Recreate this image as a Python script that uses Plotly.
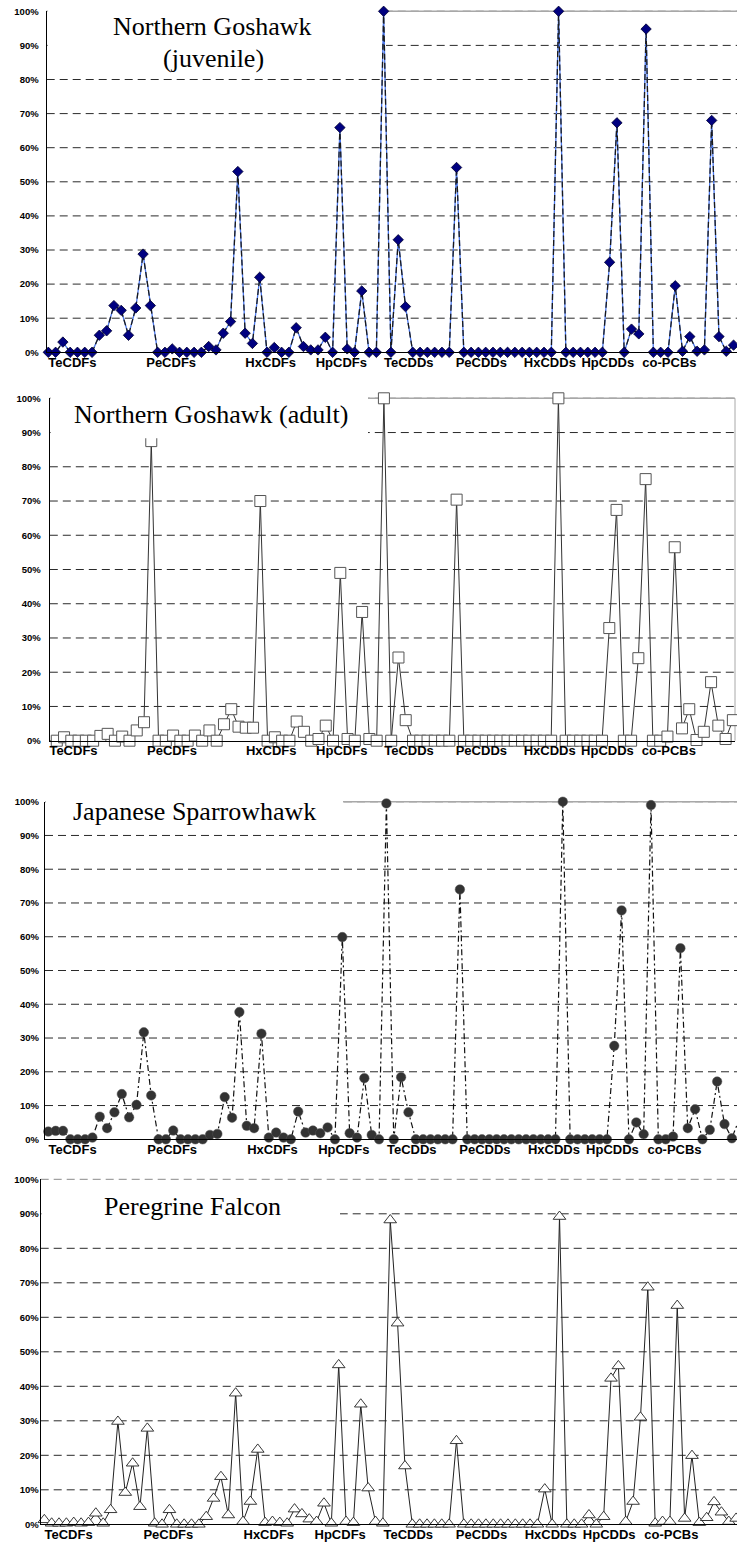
import plotly.graph_objects as go

W, H = 737, 1542

# ---------------- data (share of TEQ, %) ----------------
congener = list(range(1, 96))
group_labels = ["TeCDFs", "PeCDFs", "HxCDFs", "HpCDFs", "TeCDDs",
                "PeCDDs", "HxCDDs", "HpCDDs", "co-PCBs"]
group_label_pos = [4.3, 17.85, 31.5, 41.2, 50.45, 60.4, 69.8, 77.75, 86.2]
y_ticks = [0, 10, 20, 30, 40, 50, 60, 70, 80, 90, 100]
y_tick_text = [f"{v}%" for v in y_ticks]

goshawk_juvenile = [
    0, 0, 3, 0, 0, 0, 0, 5, 6.3, 13.7, 12.3, 5, 13, 28.8, 13.7, 0, 0, 1, 0, 0,
    0, 0, 1.7, 0.7, 5.6, 9, 53, 5.6, 2.6, 22, 0, 1.4, 0, 0, 7.2, 1.7, 0.7, 0.7, 4.4, 0,
    65.9, 1, 0, 18, 0, 0, 100, 0, 33, 13.4, 0, 0, 0, 0, 0, 0, 54.2, 0, 0, 0,
    0, 0, 0, 0, 0, 0, 0, 0, 0, 0, 100, 0, 0, 0, 0, 0, 0, 26.4, 67.3, 0,
    6.8, 5.4, 94.8, 0, 0, 0, 19.5, 0.3, 4.6, 0.3, 0.7, 68, 4.6, 0.3, 2.1]

goshawk_adult = [
    0, 0, 1, 0, 0, 0, 0, 1.4, 2, 0, 1.2, 0, 3, 5.4, 87.5, 0, 0, 1.5, 0, 0,
    1.5, 0, 3, 0, 4.8, 9.2, 4.1, 3.8, 3.8, 70, 0, 1, 0, 0, 5.6, 2.6, 0, 0.5, 4.4, 0,
    49, 0.5, 0, 37.6, 0.5, 0, 100, 0, 24.3, 6, 0, 0, 0, 0, 0, 0, 70.4, 0, 0, 0,
    0, 0, 0, 0, 0, 0, 0, 0, 0, 0, 100, 0, 0, 0, 0, 0, 0, 32.9, 67.4, 0,
    0, 24.1, 76.4, 0, 0, 1.2, 56.5, 3.6, 9.2, 0.2, 2.6, 17.1, 4.4, 0.5, 6]

sparrowhawk = [
    2.3, 2.5, 2.5, 0, 0, 0, 0.5, 6.7, 3.3, 8, 13.4, 6.5, 10.2, 31.7, 13, 0, 0, 2.6, 0, 0,
    0, 0, 1.3, 1.6, 12.5, 6.4, 37.7, 4, 3.3, 31.3, 0.5, 2, 0.5, 0, 8.2, 2, 2.6, 1.8, 3.5, 0,
    59.9, 1.8, 0.5, 18.1, 1.3, 0, 99.5, 0, 18.4, 8, 0, 0, 0, 0, 0, 0, 74, 0, 0, 0,
    0, 0, 0, 0, 0, 0, 0, 0, 0, 0, 100, 0, 0, 0, 0, 0, 0, 27.7, 67.8, 0,
    5, 1.5, 99, 0, 0, 0.8, 56.6, 3.3, 8.9, 0, 2.8, 17.1, 4.5, 0.3, 6]

peregrine = [
    1.3, 0.3, 0.3, 0.3, 0.5, 0.3, 0.5, 3.2, 0.3, 4.2, 29.8, 9.2, 17.7, 5.1, 27.8, 0.3, 0, 4.2, 0, 0,
    0, 0, 2.2, 7.5, 13.8, 2.7, 38, 0.8, 6.6, 21.7, 0.5, 0.8, 0.5, 0.3, 4.4, 3, 1.5, 0.8, 6.1, 0.3,
    46.2, 0.8, 0.5, 34.8, 10.5, 0.8, 0.3, 88.2, 58.3, 16.9, 0, 0, 0, 0, 0, 0, 24.2, 0, 0, 0,
    0, 0, 0, 0, 0, 0, 0, 0, 10.2, 0, 89.2, 0, 0, 0, 2.7, 0, 2.2, 42.3, 45.9, 0.8,
    6.6, 31, 68.7, 0.3, 0.8, 0.8, 63.4, 1.7, 19.9, 0.5, 1.9, 6.5, 3.5, 0.8, 1.7]

# ---------------- panel geometry (pixels) ----------------
panels = [
    dict(axis=46.7, first=48.3, step=7.29, right=737.0, y0=352.3, y100=11.3, standoff=5),
    dict(axis=49.8, first=49.5, step=7.27, right=735.0, y0=740.7, y100=398.3, standoff=6),
    dict(axis=45.0, first=48.3, step=7.35, right=737.0, y0=1139.3, y100=801.7, standoff=3),
    dict(axis=40.7, first=44.3, step=7.36, right=737.0, y0=1524.3, y100=1179.3, standoff=-1),
]


def fx(xpx):
    return xpx / W


def fy(ypx):
    return 1 - ypx / H


fig = go.Figure()


def ax_names(k):
    return ("x" if k == 0 else f"x{k+1}"), ("y" if k == 0 else f"y{k+1}")


for k, p in enumerate(panels):
    xa, ya = ax_names(k)
    lo = 1 + (p["axis"] - p["first"]) / p["step"]
    hi = 1 + (p["right"] - p["first"]) / p["step"]
    xkey = "xaxis" if k == 0 else f"xaxis{k+1}"
    ykey = "yaxis" if k == 0 else f"yaxis{k+1}"
    fig.update_layout(**{
        xkey: dict(
            domain=[fx(p["axis"]), min(1.0, fx(p["right"]))], range=[lo, hi], anchor=ya,
            automargin=False, fixedrange=True, ticklabeloverflow="allow",
            showline=True, linecolor="black", linewidth=1.3, showgrid=False,
            zeroline=False, tickvals=group_label_pos, ticktext=group_labels,
            ticks="", tickangle=0, ticklabelstandoff=-2,
            tickfont=dict(family="Liberation Sans", size=13, color="black", weight="bold"),
        ),
        ykey: dict(
            domain=[fy(p["y0"]), fy(p["y100"])], range=[0, 100], anchor=xa,
            automargin=False, fixedrange=True, ticklabeloverflow="allow",
            showline=True, linecolor="black", linewidth=1.3, showgrid=False,
            zeroline=False, tickvals=y_ticks, ticktext=y_tick_text, ticks="",
            ticklabelstandoff=int(p["standoff"]),
            tickfont=dict(family="Liberation Sans", size=9.5, color="black", weight="bold"),
        ),
    })

# Panel 1: Northern Goshawk (juvenile) -- blue line under black dashes, navy diamonds
fig.add_trace(go.Scatter(x=congener, y=goshawk_juvenile, mode="lines", xaxis="x", yaxis="y",
                         line=dict(color="#4a78f0", width=1.3), cliponaxis=False,
                         hoverinfo="skip", showlegend=False))
fig.add_trace(go.Scatter(x=congener, y=goshawk_juvenile, mode="lines+markers", xaxis="x", yaxis="y",
                         line=dict(color="#1a1a1a", width=1.3, dash="6px,3px"),
                         marker=dict(symbol="diamond", size=8, color="#000080",
                                     line=dict(color="#000030", width=0.8)),
                         cliponaxis=False, showlegend=False, name="Northern Goshawk (juvenile)"))

# Panel 2: Northern Goshawk (adult) -- white squares
fig.add_trace(go.Scatter(x=congener, y=goshawk_adult, mode="lines+markers", xaxis="x2", yaxis="y2",
                         line=dict(color="#333333", width=1),
                         marker=dict(symbol="square", size=11, color="white",
                                     line=dict(color="#555555", width=1)),
                         cliponaxis=False, showlegend=False, name="Northern Goshawk (adult)"))

# Panel 3: Japanese Sparrowhawk -- dash-dot line, dark circles
fig.add_trace(go.Scatter(x=congener, y=sparrowhawk, mode="lines+markers", xaxis="x3", yaxis="y3",
                         line=dict(color="#111111", width=1.2, dash="6px,3px,2px,3px"),
                         marker=dict(symbol="circle", size=9.5, color="#333333",
                                     line=dict(color="#555555", width=0.5)),
                         cliponaxis=False, showlegend=False, name="Japanese Sparrowhawk"))

# Panel 4: Peregrine Falcon -- white triangles
fig.add_trace(go.Scatter(x=congener, y=peregrine, mode="lines+markers", xaxis="x4", yaxis="y4",
                         line=dict(color="#222222", width=1),
                         marker=dict(symbol="triangle-up", size=11, color="white",
                                     line=dict(color="#222222", width=0.9)),
                         cliponaxis=False, showlegend=False, name="Peregrine Falcon"))

shapes = []
# dashed horizontal gridlines (drawn as shapes below the traces)
for k, p in enumerate(panels):
    for v in y_ticks[1:]:
        ypx = p["y0"] - (p["y0"] - p["y100"]) * v / 100
        col = "#8a8a8a" if (k == 3 and v == 100) else "#2a2a2a"
        shapes.append(dict(type="line", xref="paper", yref="paper",
                           x0=fx(p["axis"]), x1=min(1.0, fx(p["right"])), y0=fy(ypx), y1=fy(ypx),
                           line=dict(color=col, width=1, dash="8px,5px"), layer="below"))
# gray solid top border at 100 % (panels 1-3)
for k in range(3):
    p = panels[k]
    shapes.append(dict(type="line", xref="paper", yref="paper",
                       x0=fx(p["axis"]), x1=min(1.0, fx(p["right"])),
                       y0=fy(p["y100"]), y1=fy(p["y100"]),
                       line=dict(color="#a8a8a8", width=1.4), layer="below"))
# right border of panel 2
p = panels[1]
shapes.append(dict(type="line", xref="paper", yref="paper",
                   x0=fx(p["right"]), x1=fx(p["right"]), y0=fy(p["y0"]), y1=fy(p["y100"]),
                   line=dict(color="#a8a8a8", width=1), layer="below"))

# white title boxes (left, top, right, bottom in pixels)
boxes = [(47.6, 0, 386, 72, "below"),
         (50.6, 392, 368, 438.3, "above"),
         (45.8, 795, 343, 827, "below"),
         (41.5, 1180.6, 340, 1222, "below")]
for x0p, y0p, x1p, y1p, layer in boxes:
    shapes.append(dict(type="rect", xref="paper", yref="paper",
                       x0=fx(x0p), x1=fx(x1p), y0=fy(y1p), y1=min(1.0, fy(y0p)),
                       fillcolor="white", line=dict(width=0), layer=layer))

titles = [("Northern Goshawk", 212, 26.7), ("(juvenile)", 213, 58.3),
          ("Northern Goshawk (adult)", 211, 415), ("Japanese Sparrowhawk", 194, 811.7),
          ("Peregrine Falcon", 193, 1206)]
annotations = []
for txt, cx, cy in titles:
    annotations.append(dict(text=txt, xref="paper", yref="paper", x=fx(cx), y=fy(cy),
                            xanchor="center", yanchor="middle", showarrow=False,
                            font=dict(family="Liberation Serif", size=26, color="black")))

fig.update_layout(width=W, height=H, margin=dict(l=0, r=0, t=0, b=0),
                  paper_bgcolor="white", plot_bgcolor="rgba(0,0,0,0)",
                  shapes=shapes, annotations=annotations, showlegend=False)

# remove the browser's default 8px page margin so the figure fills the window
fig.write_html("out.html", config={"displayModeBar": False},
               post_script="document.body.style.margin='0';")
